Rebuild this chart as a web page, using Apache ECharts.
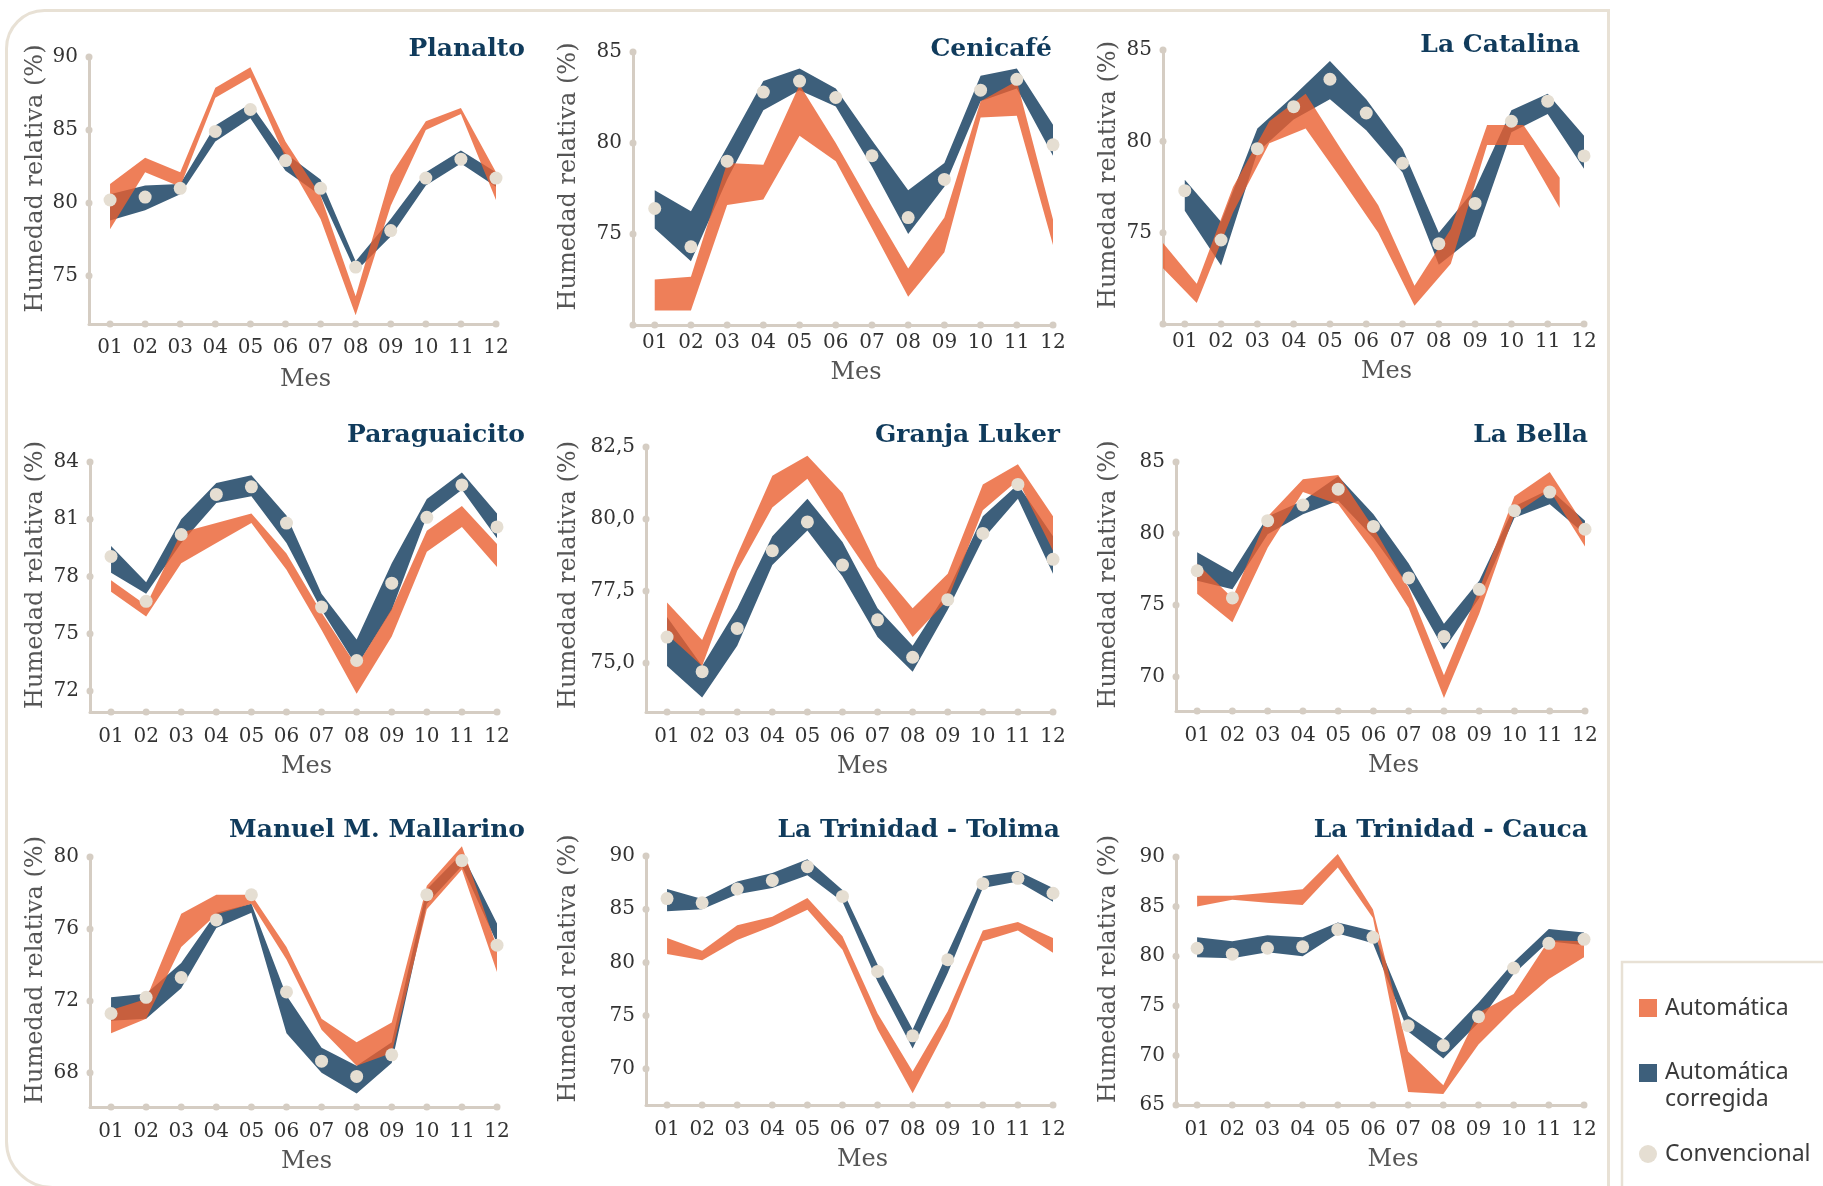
<!DOCTYPE html>
<html>
<head>
<meta charset="utf-8">
<title>Humedad relativa mensual</title>
<script src="https://cdn.jsdelivr.net/npm/echarts@6/dist/echarts.min.js"></script>
<style>
html, body { margin: 0; padding: 0; background: #fff; }
#chart { width: 1823px; height: 1186px; }
</style>
</head>
<body>
<div id="chart"></div>
<script>
var months = ['01', '02', '03', '04', '05', '06', '07', '08', '09', '10', '11', '12'];
var monthPos = [1, 2, 3, 4, 5, 6, 7, 8, 9, 10, 11, 12];
var stations = ['Planalto', 'Cenicafé', 'La Catalina', 'Paraguaicito', 'Granja Luker', 'La Bella',
	'Manuel M. Mallarino', 'La Trinidad - Tolima', 'La Trinidad - Cauca'];

// Automática (banda naranja): mínimo y máximo
var autoLow = [
	[78.2, 82.1, 81.1, 87.2, 88.6, 83.1, 78.9, 72.3, 79.8, 85.0, 86.1, 80.2],
	[70.8, 70.8, 76.6, 76.9, 80.4, 79.0, 75.3, 71.55, 74.0, 81.4, 81.5, 74.4],
	[73.2, 71.15, 76.1, 79.9, 80.7, 77.9, 75.0, 71.0, 73.3, 79.8, 79.8, 76.35],
	[77.2, 75.9, 78.7, 79.75, 80.8, 78.35, 75.2, 71.85, 74.85, 79.3, 80.6, 78.5],
	[76.0, 74.9, 78.2, 80.4, 81.4, 79.5, 77.7, 75.9, 77.2, 80.3, 81.35, 78.9],
	[75.8, 73.8, 79.0, 82.9, 82.05, 78.7, 74.8, 68.5, 74.4, 81.35, 83.0, 79.1],
	[70.2, 71.0, 75.0, 76.8, 77.4, 74.3, 70.4, 68.4, 69.1, 77.1, 79.3, 73.6],
	[80.8, 80.2, 82.1, 83.4, 84.95, 81.2, 73.7, 67.7, 74.0, 82.0, 83.0, 80.9],
	[85.0, 85.7, 85.4, 85.15, 88.95, 83.85, 66.3, 66.1, 71.1, 74.65, 77.7, 79.9]
];
var autoHigh = [
	[81.3, 83.1, 82.1, 87.9, 89.3, 84.2, 80.5, 73.6, 81.9, 85.6, 86.5, 82.1],
	[72.5, 72.65, 78.9, 78.8, 83.2, 80.0, 76.5, 73.1, 75.9, 82.3, 83.4, 75.8],
	[74.6, 72.2, 77.5, 81.1, 82.6, 79.5, 76.5, 72.1, 75.2, 80.9, 80.9, 78.0],
	[77.8, 76.5, 80.3, 80.8, 81.3, 79.2, 76.1, 73.3, 76.3, 80.4, 81.7, 79.7],
	[77.1, 75.8, 78.75, 81.5, 82.2, 80.9, 78.35, 76.9, 78.1, 81.2, 81.9, 80.1],
	[77.9, 75.5, 81.2, 83.8, 84.1, 80.4, 76.2, 70.1, 76.1, 82.6, 84.3, 80.5],
	[71.5, 72.1, 76.85, 77.9, 77.9, 75.0, 71.0, 69.7, 70.8, 78.4, 80.6, 75.0],
	[82.3, 81.1, 83.5, 84.3, 86.05, 82.45, 75.2, 69.75, 75.4, 83.0, 83.8, 82.3],
	[86.1, 86.1, 86.4, 86.75, 90.3, 84.7, 70.4, 67.0, 74.3, 76.2, 81.6, 81.5]
];
// en La Catalina la serie automática aparece adelantada unos dos tercios de mes
var autoMonthOffset = [0, 0, -0.67, 0, 0, 0, 0, 0, 0];

// Automática corregida (banda azul)
var corrLow = [
	[78.8, 79.5, 80.6, 84.2, 85.8, 82.2, 80.5, 75.3, 77.7, 81.2, 82.7, 81.1],
	[75.3, 73.5, 78.0, 81.8, 82.9, 82.0, 78.7, 75.0, 77.6, 82.3, 83.0, 79.3],
	[76.2, 73.2, 79.4, 81.2, 82.3, 80.6, 78.3, 73.25, 74.8, 80.5, 81.5, 78.5],
	[78.2, 77.1, 79.75, 81.85, 82.2, 79.75, 76.25, 73.3, 76.25, 81.15, 82.55, 80.0],
	[74.9, 73.8, 75.6, 78.4, 79.6, 78.0, 75.9, 74.7, 76.85, 79.3, 80.7, 78.1],
	[76.7, 76.1, 79.95, 81.35, 82.3, 79.7, 76.3, 71.9, 75.5, 81.1, 82.05, 79.95],
	[70.9, 71.0, 72.7, 76.05, 76.9, 70.2, 68.0, 66.85, 68.55, 77.4, 79.5, 75.2],
	[84.8, 85.0, 86.4, 87.0, 88.2, 85.7, 78.2, 71.9, 79.0, 87.0, 87.6, 85.7],
	[79.9, 79.8, 80.4, 80.0, 82.3, 81.3, 72.4, 69.7, 73.3, 78.2, 81.5, 81.1]
];
var corrHigh = [
	[80.6, 81.2, 81.3, 85.3, 86.8, 83.4, 81.6, 76.0, 78.9, 82.1, 83.6, 82.1],
	[77.4, 76.25, 79.8, 83.4, 84.1, 83.0, 80.15, 77.4, 78.9, 83.7, 84.1, 81.0],
	[77.9, 75.6, 80.7, 82.5, 84.4, 82.3, 79.6, 75.0, 77.4, 81.7, 82.6, 80.3],
	[79.6, 77.7, 81.0, 82.9, 83.3, 81.2, 77.1, 74.7, 78.7, 82.06, 83.45, 81.3],
	[76.6, 74.9, 76.9, 79.4, 80.7, 79.2, 76.9, 75.6, 77.5, 80.1, 81.2, 79.4],
	[78.7, 77.3, 81.2, 82.3, 84.0, 81.35, 77.9, 73.7, 76.7, 81.9, 83.1, 80.9],
	[72.2, 72.4, 74.1, 76.9, 77.4, 72.3, 69.4, 68.4, 69.7, 78.2, 80.2, 76.3],
	[86.9, 85.95, 87.6, 88.4, 89.7, 86.8, 79.8, 73.7, 80.9, 88.1, 88.6, 87.0],
	[81.9, 81.5, 82.1, 81.9, 83.4, 82.55, 74.0, 71.6, 75.3, 79.4, 82.75, 82.4]
];

// Convencional (puntos)
var conventional = [
	[80.2, 80.4, 81.0, 84.9, 86.4, 82.9, 81.0, 75.6, 78.1, 81.7, 83.0, 81.7],
	[76.4, 74.3, 79.0, 82.8, 83.4, 82.5, 79.3, 75.9, 78.0, 82.9, 83.5, 79.9],
	[77.3, 74.6, 79.6, 81.9, 83.4, 81.55, 78.8, 74.4, 76.6, 81.1, 82.2, 79.2],
	[79.05, 76.7, 80.2, 82.3, 82.7, 80.8, 76.4, 73.6, 77.65, 81.1, 82.8, 80.6],
	[75.9, 74.7, 76.2, 78.9, 79.9, 78.4, 76.5, 75.2, 77.2, 79.5, 81.2, 78.6],
	[77.4, 75.5, 80.9, 82.0, 83.1, 80.5, 76.9, 72.8, 76.1, 81.6, 82.9, 80.3],
	[71.3, 72.2, 73.3, 76.5, 77.9, 72.5, 68.65, 67.8, 69.0, 77.9, 79.8, 75.1],
	[86.0, 85.6, 86.9, 87.7, 89.0, 86.2, 79.15, 73.1, 80.25, 87.4, 87.9, 86.5],
	[80.8, 80.2, 80.8, 80.95, 82.7, 81.9, 73.0, 71.0, 73.9, 78.8, 81.3, 81.7]
];

// escalas del eje y y sus marcas
var yMin = [71.7, 70, 70, 70.9, 73.3, 67.6, 66.1, 66.6, 65];
var yMax = [90, 85, 85, 84, 82.5, 85, 80, 90, 90];
var yTicks = [
	[75, 80, 85, 90],
	[75, 80, 85],
	[75, 80, 85],
	[72, 75, 78, 81, 84],
	[75, 77.5, 80, 82.5],
	[70, 75, 80, 85],
	[68, 72, 76, 80],
	[70, 75, 80, 85, 90],
	[65, 70, 75, 80, 85, 90]
];

var xMin = 0.4;
var ORANGE = '#ea5f30';
var BLUE = '#3d5f7b';
var DOT = '#e5ded2';
var AXIS = '#d5cdc3';
var NAVY = '#103b5c';
var SERIF = "'DejaVu Serif', serif";

// posición de cada panel (px): eje y, tope, extremo del mes 12, eje x
var panels = [
	{ left: 89, top: 57, x12: 496, axisY: 324, titleRight: 530, titleY: 47, nameGap: 41, labelMargin: 14, mesGap: 44, namePad: 24 },
	{ left: 633, top: 52, x12: 1053, axisY: 325, titleRight: 1057, titleY: 47, nameGap: 52, labelMargin: 8, mesGap: 36, namePad: 24, cornerDot: true },
	{ left: 1163, top: 50, x12: 1584, axisY: 324, titleRight: 1585, titleY: 43, nameGap: 42, labelMargin: 8, mesGap: 36, namePad: 24, cornerDot: true },
	{ left: 90, top: 462, x12: 497, axisY: 712, titleRight: 530, titleY: 433, nameGap: 42, labelMargin: 15, mesGap: 43, namePad: 24 },
	{ left: 646, top: 447, x12: 1053, axisY: 712, titleRight: 1065, titleY: 433, nameGap: 65, labelMargin: 15, mesGap: 43, namePad: 9, decimals: true },
	{ left: 1176, top: 462, x12: 1585, axisY: 711, titleRight: 1593, titleY: 433, nameGap: 55, labelMargin: 15, mesGap: 43, namePad: 24 },
	{ left: 90, top: 857, x12: 497, axisY: 1107, titleRight: 530, titleY: 828, nameGap: 42, labelMargin: 15, mesGap: 43, namePad: 24 },
	{ left: 646, top: 856, x12: 1053, axisY: 1105, titleRight: 1065, titleY: 828, nameGap: 65, labelMargin: 15, mesGap: 43, namePad: 24 },
	{ left: 1176, top: 857, x12: 1584, axisY: 1105, titleRight: 1593, titleY: 828, nameGap: 55, labelMargin: 15, mesGap: 43, namePad: 24 }
];

// banda entre mínimo y máximo, dibujada como un solo polígono
function bandSeries(i, name, low, high, shift, color, opacity, z, clip) {
	return {
		name: name, type: 'custom', xAxisIndex: i, yAxisIndex: i, z: z, silent: true, clip: clip,
		encode: { x: 0, y: [1, 2] },
		data: monthPos.map(function (m, k) { return [m + shift, low[k], high[k]]; }),
		renderItem: function (params, api) {
			if (params.dataIndexInside !== 0) return;
			var upper = [], lower = [];
			for (var j = 0; j < params.dataInsideLength; j++) {
				upper.push(api.coord([api.value(0, j), api.value(2, j)]));
				lower.unshift(api.coord([api.value(0, j), api.value(1, j)]));
			}
			return {
				type: 'polygon',
				shape: { points: upper.concat(lower) },
				style: { fill: color, opacity: opacity }
			};
		}
	};
}

var W = 1823, H = 1186;
var grids = [], xAxes = [], yAxes = [], titles = [], series = [];

panels.forEach(function (p, i) {
	grids.push({ left: p.left, top: p.top, right: W - p.x12, bottom: H - p.axisY, containLabel: false });
	titles.push({
		text: stations[i],
		right: W - p.titleRight,
		top: p.titleY - 15,
		textStyle: { fontFamily: 'DejaVu Serif', fontWeight: 'bold', fontSize: 25, color: NAVY }
	});
	xAxes.push({
		gridIndex: i, type: 'value', min: xMin, max: 12,
		name: 'Mes', nameLocation: 'middle', nameGap: p.mesGap,
		nameTextStyle: { fontFamily: SERIF, fontSize: 24, color: '#555', padding: [0, 0, 0, 26] },
		axisLine: { show: true, onZero: false, lineStyle: { color: AXIS, width: 3 } },
		axisTick: { show: false },
		splitLine: { show: false },
		axisLabel: {
			customValues: monthPos,
			formatter: function (v) { return months[Math.round(v) - 1]; },
			margin: p.labelMargin, fontFamily: SERIF, fontSize: 20, color: '#333'
		}
	});
	yAxes.push({
		gridIndex: i, type: 'value', min: yMin[i], max: yMax[i],
		name: 'Humedad relativa (%)', nameLocation: 'middle', nameRotate: 90, nameGap: p.nameGap,
		nameTextStyle: { fontFamily: SERIF, fontSize: 24, color: '#555', padding: [0, 0, 0, p.namePad] },
		axisLine: { show: true, onZero: false, lineStyle: { color: AXIS, width: 3 } },
		axisTick: { show: false },
		splitLine: { show: false },
		axisLabel: {
			customValues: yTicks[i],
			formatter: function (v) { return p.decimals ? v.toFixed(1).replace('.', ',') : String(v); },
			margin: 11, fontFamily: SERIF, fontSize: 20, color: '#333'
		}
	});

	// puntos decorativos sobre los ejes
	var xDots = monthPos.map(function (m) { return [m, yMin[i]]; });
	var yDotVals = yTicks[i].slice();
	if (p.cornerDot) yDotVals.unshift(yMin[i]);
	var yDots = yDotVals.map(function (v) { return [xMin, v]; });
	series.push({
		type: 'scatter', xAxisIndex: i, yAxisIndex: i, silent: true, clip: false, z: 1,
		symbolSize: 7, itemStyle: { color: AXIS, opacity: 1 },
		data: xDots.concat(yDots)
	});

	series.push(bandSeries(i, 'Automática corregida', corrLow[i], corrHigh[i], 0, BLUE, 1, 2, false));
	var shift = autoMonthOffset[i];
	series.push(bandSeries(i, 'Automática', autoLow[i], autoHigh[i], shift, ORANGE, 0.8, 3, shift !== 0));

	series.push({
		name: 'Convencional', type: 'scatter', xAxisIndex: i, yAxisIndex: i, clip: false, z: 4,
		symbolSize: 13, itemStyle: { color: DOT, opacity: 1 },
		data: monthPos.map(function (m, k) { return [m, conventional[i][k]]; })
	});
});

var FRAME = '#e8e1d5';
var graphics = [
	{ type: 'rect', z: -1, shape: { x: 6.5, y: 10.5, width: 1602, height: 1177, r: [38, 0, 0, 46] },
		style: { fill: 'none', stroke: FRAME, lineWidth: 3 } },
	{ type: 'rect', z: -1, shape: { x: 1622, y: 962, width: 260, height: 300 },
		style: { fill: '#fff', stroke: FRAME, lineWidth: 2.5 } },
	{ type: 'rect', shape: { x: 1639, y: 999, width: 18, height: 18 }, style: { fill: '#ee7f59' } },
	{ type: 'text', x: 1665, y: 1008, style: { text: 'Automática', font: "23px 'Noto Sans'", fill: '#3a3a3a', verticalAlign: 'middle' } },
	{ type: 'rect', shape: { x: 1639, y: 1064, width: 18, height: 18 }, style: { fill: BLUE } },
	{ type: 'text', x: 1665, y: 1059, style: { text: 'Automática\ncorregida', font: "23px 'Noto Sans'", lineHeight: 27, fill: '#3a3a3a', verticalAlign: 'top' } },
	{ type: 'circle', shape: { cx: 1648, cy: 1154, r: 9 }, style: { fill: DOT } },
	{ type: 'text', x: 1665, y: 1154, style: { text: 'Convencional', font: "23px 'Noto Sans'", fill: '#3a3a3a', verticalAlign: 'middle' } }
];

var myChart = echarts.init(document.getElementById('chart'), null, { renderer: 'canvas' });
myChart.setOption({
	backgroundColor: '#ffffff',
	animation: false,
	title: titles,
	grid: grids,
	xAxis: xAxes,
	yAxis: yAxes,
	series: series,
	graphic: graphics
});
window.addEventListener('resize', function () {
	myChart.resize();
}, false);
</script>
</body>
</html>
